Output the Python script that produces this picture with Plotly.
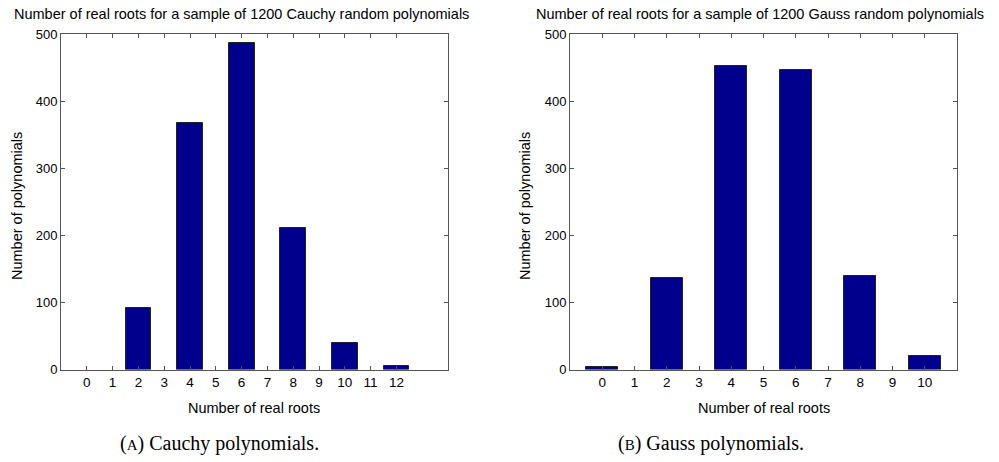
import plotly.graph_objects as go

# Data
cauchy_roots = [0, 1, 2, 3, 4, 5, 6, 7, 8, 9, 10, 11, 12]
cauchy_counts = [0, 0, 91, 0, 368, 0, 486, 0, 211, 0, 40, 0, 5]
gauss_roots = [0, 1, 2, 3, 4, 5, 6, 7, 8, 9, 10]
gauss_counts = [4, 0, 137, 0, 453, 0, 447, 0, 140, 0, 20]
y_ticks = [0, 100, 200, 300, 400, 500]
titles = ["Number of real roots for a sample of 1200 Cauchy random polynomials",
          "Number of real roots for a sample of 1200 Gauss random polynomials"]
xlabel = "Number of real roots"
ylabel = "Number of polynomials"
captions = ["(<span style='font-size:15px'>A</span>) Cauchy polynomials.",
            "(<span style='font-size:15px'>B</span>) Gauss polynomials."]

W, H = 999, 462
BAR = "#00008C"
AX = "#555555"
SANS = "Liberation Sans, Arial, Helvetica, sans-serif"


def px(x):
    return x / W


def py(y):
    return 1 - y / H


def outline_widths(counts):
    return [1 if c > 0 else 0 for c in counts]


fig = go.Figure()
fig.add_trace(go.Bar(x=cauchy_roots, y=cauchy_counts, width=1.0, xaxis="x", yaxis="y",
                     marker=dict(color=BAR, line=dict(color="#222222", width=outline_widths(cauchy_counts))),
                     showlegend=False))
fig.add_trace(go.Bar(x=gauss_roots, y=gauss_counts, width=1.0, xaxis="x2", yaxis="y2",
                     marker=dict(color=BAR, line=dict(color="#222222", width=outline_widths(gauss_counts))),
                     showlegend=False))

ydom = [py(369.5), py(34)]
lx = [px(61), px(448)]
rx = [px(570), px(957)]

common_x = dict(showline=True, linecolor=AX, linewidth=1, mirror="ticks", ticks="inside",
                ticklen=4, tickcolor=AX, showgrid=False, zeroline=False, automargin=False,
                tickfont=dict(family=SANS, size=13.5, color="#000"))
common_y = dict(showline=True, linecolor=AX, linewidth=1, mirror="ticks", ticks="inside",
                ticklen=4, tickcolor=AX, showgrid=False, zeroline=False, range=[0, 500],
                automargin=False, tickvals=y_ticks,
                tickfont=dict(family=SANS, size=13, color="#000"))

fig.update_layout(
    width=W, height=H, margin=dict(l=0, r=0, t=0, b=0, autoexpand=False),
    paper_bgcolor="white", plot_bgcolor="white", bargap=0,
    xaxis=dict(domain=lx, anchor="y", range=[-1, 14], tickvals=cauchy_roots, **common_x),
    yaxis=dict(domain=ydom, anchor="x", **common_y),
    xaxis2=dict(domain=rx, anchor="y2", range=[-1, 11], tickvals=gauss_roots, **common_x),
    yaxis2=dict(domain=ydom, anchor="x2", **common_y),
)

ann = []
for t, cx in zip(titles, [241, 760]):
    ann.append(dict(text=t, x=px(cx), y=py(14), xref="paper", yref="paper",
                    showarrow=False, xanchor="center", yanchor="middle",
                    font=dict(family=SANS, size=14.5, color="#000")))
for cx in [254.5, 763.5]:
    ann.append(dict(text=xlabel, x=px(cx), y=py(408), xref="paper", yref="paper",
                    showarrow=False, xanchor="center", yanchor="middle",
                    font=dict(family=SANS, size=14.5, color="#000")))
for cx in [17, 525]:
    ann.append(dict(text=ylabel, x=px(cx), y=py(206), xref="paper", yref="paper",
                    showarrow=False, xanchor="center", yanchor="middle", textangle=-90,
                    font=dict(family=SANS, size=14.5, color="#000")))
for c, cx in zip(captions, [219, 711]):
    ann.append(dict(text=c, x=px(cx), y=py(443), xref="paper", yref="paper",
                    showarrow=False, xanchor="center", yanchor="middle",
                    font=dict(family="Liberation Serif, DejaVu Serif, serif", size=20, color="#000")))
fig.update_layout(annotations=ann)

fig.write_html("out.html", config={"displayModeBar": False},
               post_script="document.body.style.margin='0px';")
